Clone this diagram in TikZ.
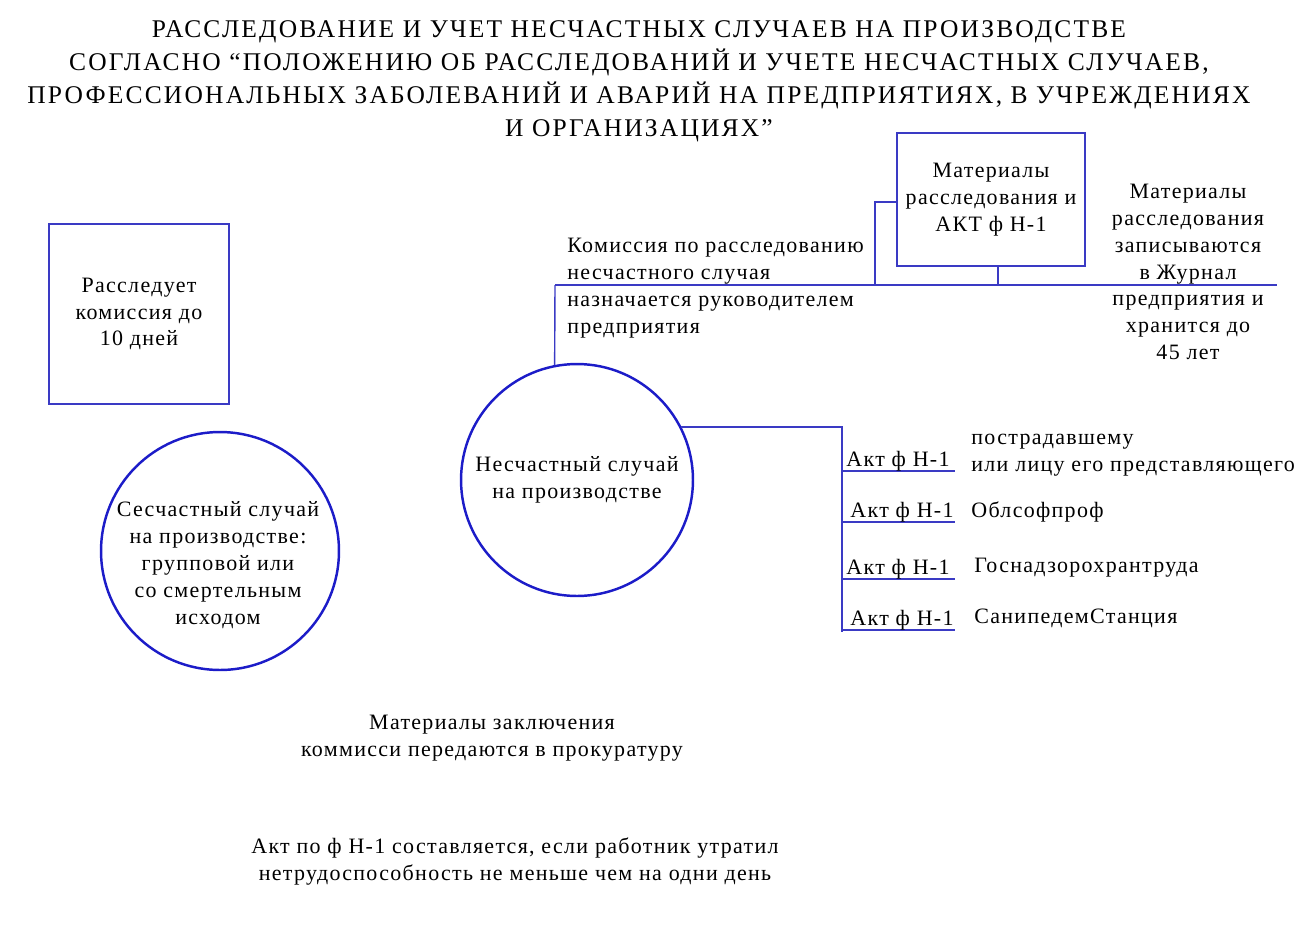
\documentclass[tikz,border=0pt]{standalone}
\usepackage{fontspec}
\setmainfont[LetterSpace=6]{Liberation Serif}
\newfontfamily\titlefont[LetterSpace=8.6]{Liberation Serif}
\usepackage{xcolor}
\usetikzlibrary{positioning}

\definecolor{ringblue}{RGB}{28,28,200}
\definecolor{lineblue}{RGB}{58,58,196}

\begin{document}
\begin{tikzpicture}[x=0.02cm, y=-0.02cm,
      txt/.style={inner sep=0pt, align=center, font=\fontsize{12.5}{15.3}\selectfont},
      ltxt/.style={txt, align=left},
      box/.style={draw=lineblue, line width=0.8pt, inner sep=0pt},
      ring/.style={circle, draw=ringblue, line width=1.4pt, inner sep=0pt},
      link/.style={draw=lineblue, line width=0.8pt}]
    \useasboundingbox (0,0) rectangle (1302,931);
    % title
    \node[txt, font=\titlefont\fontsize{14.5}{18.7}\selectfont] (title) at (639,81)
      {РАССЛЕДОВАНИЕ И УЧЕТ НЕСЧАСТНЫХ СЛУЧАЕВ НА ПРОИЗВОДСТВЕ\\
       СОГЛАСНО “ПОЛОЖЕНИЮ ОБ РАССЛЕДОВАНИЙ И УЧЕТЕ НЕСЧАСТНЫХ СЛУЧАЕВ,\\
       ПРОФЕССИОНАЛЬНЫХ ЗАБОЛЕВАНИЙ И АВАРИЙ НА ПРЕДПРИЯТИЯХ, В УЧРЕЖДЕНИЯХ\\
       И ОРГАНИЗАЦИЯХ”};

    % left part
    \node[box, minimum width=3.6cm, minimum height=3.6cm, txt] (days) at (139,314)
      {Расследует\\комиссия до\\10 дней};
    \node[ring, minimum size=4.76cm] (group) at (220,551) {};
    \node[txt] (grouptxt) at (218,565)
      {Сесчастный случай\\на производстве:\\групповой или\\со смертельным\\исходом};

    % main accident
    \node[ring, minimum size=4.64cm, txt] (accident) at (577,480)
      {Несчастный случай\\на производстве};
    \node[box, minimum width=3.76cm, minimum height=2.66cm, txt] (mat) at (991,199.5)
      {Материалы\\расследования и\\АКТ ф Н-1};
    \node[ltxt, anchor=west] (comm) at (567,288)
      {Комиссия по расследованию\\несчастного случая\\назначается руководителем\\предприятия};
    \node[txt] (journal) at (1188,272)
      {Материалы\\расследования\\записываются\\в Журнал\\предприятия и\\хранится до\\45 лет};

    \coordinate (busL) at (555,285);
    \coordinate (busR) at (1277,285);
    \coordinate (busM) at (875,285);
    \draw[link] (busL) -- (busR);
    \draw[link] (busL) -- (accident.101);
    \draw[link] (busM) |- (mat.west |- 0,202);
    \draw[link] (mat.south -| 998,0) -- (998,285);

    % copies of the act
    \coordinate (spine) at (842,632);
    \draw[link] (accident.27) -| (spine);
    \foreach \n/\y/\x in {1/471/898, 2/522/902, 3/579/898, 4/630/902}{
      \coordinate (br\n) at (842,\y);
      \coordinate (bre\n) at (955,\y);
      \draw[link] (br\n) -- (bre\n);
      \node[txt] (act\n) at (\x,\y-10) {Акт ф Н-1};
    }
    \node[ltxt, anchor=west] (victim) at (971,455.5)
      {пострадавшему\\или лицу его представляющего};
    \node[ltxt, anchor=west] (prof) at (971,512) {Облсофпроф};
    \node[ltxt, anchor=west] (nadzor) at (974,568) {Госнадзорохрантруда};
    \node[ltxt, anchor=west] (sanep) at (974,618) {СанипедемСтанция};

    % notes
    \node[txt] (prok) at (492,738.5)
      {Материалы заключения\\коммисси передаются в прокуратуру};
    \node[txt] (note) at (515,861.5)
      {Акт по ф Н-1 составляется, если работник утратил\\нетрудоспособность не меньше чем на одни день};
  \end{tikzpicture}
\end{document}
